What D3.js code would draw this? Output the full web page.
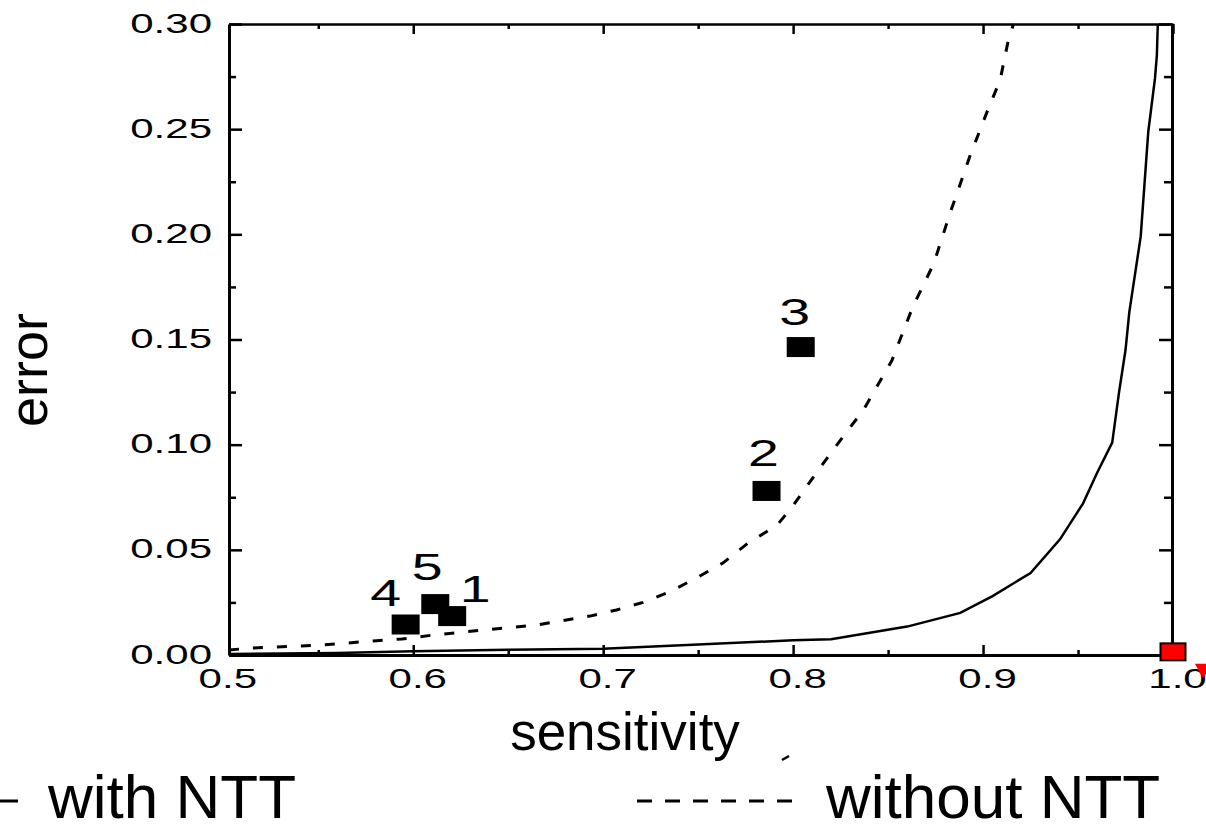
<!DOCTYPE html>
<html>
<head>
<meta charset="utf-8">
<script src="https://cdn.jsdelivr.net/npm/d3@7"></script>
<style>
  html, body { margin: 0; padding: 0; background: #fff; }
  svg { display: block; }
  text { font-family: "Liberation Sans", Arial, Helvetica, sans-serif; fill: #000; }
</style>
</head>
<body>
<svg id="chart" width="1206" height="824"></svg>
<script>
// ---------------- data ----------------
const xMajorTicks = [0.5, 0.6, 0.7, 0.8, 0.9, 1.0];
const xTickLabels = ["0.5", "0.6", "0.7", "0.8", "0.9", "1.0"];
const xMinorTicks = [0.55, 0.65, 0.75, 0.85, 0.95];
const yMajorTicks = [0.00, 0.05, 0.10, 0.15, 0.20, 0.25, 0.30];
const yTickLabels = ["0.00", "0.05", "0.10", "0.15", "0.20", "0.25", "0.30"];
const yMinorTicks = [0.025, 0.075, 0.125, 0.175, 0.225, 0.275];

// "with NTT" curve (solid)
const withNTT_x = [0.503, 0.56, 0.60, 0.65, 0.70, 0.75, 0.80, 0.82, 0.86, 0.888, 0.905, 0.925, 0.9405, 0.9526, 0.960, 0.968, 0.9716, 0.975, 0.977, 0.979, 0.983, 0.985, 0.987, 0.9905, 0.9915, 0.992];
const withNTT_y = [0.0005, 0.001, 0.0018, 0.0025, 0.003, 0.005, 0.007, 0.0075, 0.0135, 0.020, 0.028, 0.039, 0.055, 0.072, 0.0865, 0.101, 0.125, 0.145, 0.163, 0.175, 0.199, 0.224, 0.249, 0.274, 0.285, 0.300];

// "without NTT" curve (dashed)
const withoutNTT_x = [0.503, 0.515, 0.553, 0.579, 0.594, 0.6105, 0.637, 0.665, 0.693, 0.707, 0.721, 0.735, 0.749, 0.763, 0.776, 0.7916, 0.7995, 0.807, 0.821, 0.837, 0.852, 0.863, 0.874, 0.8826, 0.893, 0.902, 0.909, 0.913, 0.916];
const withoutNTT_y = [0.0024, 0.0033, 0.0048, 0.0067, 0.0076, 0.0095, 0.0119, 0.0143, 0.0185, 0.0214, 0.025, 0.030, 0.0366, 0.0437, 0.053, 0.0618, 0.0704, 0.080, 0.0975, 0.1165, 0.140, 0.1655, 0.186, 0.210, 0.237, 0.258, 0.2734, 0.291, 0.300];

// labelled experiment points
const pointLabels = ["1", "2", "3", "4", "5"];
const pointX = [0.6205, 0.786, 0.804, 0.596, 0.6116];
const pointY = [0.0185, 0.078, 0.1464, 0.0145, 0.0242];

// red reference markers
const idealX = [1.0];
const idealY = [0.0015];
const triX = [1.0159];
const triY = [-0.0065];

const legendLabels = ["with NTT", "without NTT"];
const xTitle = "sensitivity";
const yTitle = "error";

// label offsets (pixels, relative to the marker centre)
const labelDx = [23, -3, -6, -20, -8];
const labelDy = [-14, -25, -22, -19, -24];

// ---------------- layout ----------------
const svg = d3.select("#chart");
const mLeft = 229, mRight = 1173, mTop = 24, mBottom = 655;
const x = d3.scaleLinear().domain([0.503, 1.0]).range([mLeft, mRight]);
const y = d3.scaleLinear().domain([0, 0.30]).range([mBottom, mTop]);
const SX = 1.5; // horizontal stretch of the original chart text

function styleAxis(g, w) {
  g.select(".domain").attr("stroke", "#000").attr("stroke-width", w);
  g.selectAll(".tick line").attr("stroke", "#000").attr("stroke-width", 2.5);
}

// minor ticks
svg.append("g").attr("transform", `translate(0,${mBottom})`)
  .call(d3.axisBottom(x).tickValues(xMinorTicks).tickSizeInner(-5).tickSizeOuter(0).tickFormat(""))
  .call(g => { styleAxis(g, 3); g.select(".domain").remove(); });
svg.append("g").attr("transform", `translate(0,${mTop})`)
  .call(d3.axisTop(x).tickValues(xMinorTicks).tickSizeInner(-5).tickSizeOuter(0).tickFormat(""))
  .call(g => { styleAxis(g, 3); g.select(".domain").remove(); });
svg.append("g").attr("transform", `translate(${mLeft},0)`)
  .call(d3.axisLeft(y).tickValues(yMinorTicks).tickSizeInner(-7).tickSizeOuter(0).tickFormat(""))
  .call(g => { styleAxis(g, 3); g.select(".domain").remove(); });
svg.append("g").attr("transform", `translate(${mRight - 1},0)`)
  .call(d3.axisRight(y).tickValues(yMinorTicks).tickSizeInner(-8).tickSizeOuter(0).tickFormat(""))
  .call(g => { styleAxis(g, 3); g.select(".domain").remove(); });

// top & right frame
svg.append("g").attr("transform", `translate(0,${mTop})`)
  .call(d3.axisTop(x).tickValues(xMajorTicks.filter(d => d > 0.55)).tickSizeInner(-10).tickSizeOuter(0).tickFormat(""))
  .call(g => styleAxis(g, 2.5));
svg.append("g").attr("transform", `translate(${mRight - 1},0)`)
  .call(d3.axisRight(y).tickValues(yMajorTicks).tickSizeInner(-13).tickSizeOuter(0).tickFormat(""))
  .call(g => styleAxis(g, 3));

// bottom axis
const gx = svg.append("g").attr("transform", `translate(0,${mBottom})`)
  .call(d3.axisBottom(x).tickValues(xMajorTicks).tickSizeInner(-10).tickSizeOuter(0)
    .tickFormat((d, i) => xTickLabels[i]))
  .call(g => styleAxis(g, 3));
gx.selectAll(".tick").filter(d => d < 0.503).select("line").remove();
gx.selectAll(".tick text")
  .attr("font-size", 28).attr("font-family", "Liberation Sans, Arial, sans-serif")
  .attr("fill", "#000").attr("y", 33).attr("dy", 0).attr("x", 4 / SX)
  .attr("text-anchor", "middle")
  .attr("transform", `scale(${SX},1)`);

// left axis
const gy = svg.append("g").attr("transform", `translate(${mLeft},0)`)
  .call(d3.axisLeft(y).tickValues(yMajorTicks).tickSizeInner(-13).tickSizeOuter(0)
    .tickFormat((d, i) => yTickLabels[i]))
  .call(g => styleAxis(g, 3));
gy.selectAll(".tick text")
  .attr("font-size", 28).attr("font-family", "Liberation Sans, Arial, sans-serif")
  .attr("fill", "#000").attr("x", -17 / SX).attr("y", 8).attr("dy", 0)
  .attr("text-anchor", "end")
  .attr("transform", `scale(${SX},1)`);

// ---------------- curves ----------------
const line = d3.line().x(d => x(d[0])).y(d => y(d[1])).curve(d3.curveLinear);
const withData = withNTT_x.map((v, i) => [v, withNTT_y[i]]);
const withoutData = withoutNTT_x.map((v, i) => [v, withoutNTT_y[i]]);

svg.append("path").datum(withoutData).attr("d", line)
  .attr("fill", "none").attr("stroke", "#000").attr("stroke-width", 3)
  .attr("stroke-dasharray", "10,14");
svg.append("path").datum(withData).attr("d", line)
  .attr("fill", "none").attr("stroke", "#000").attr("stroke-width", 2.5);

// ---------------- points ----------------
const pts = pointX.map((v, i) => ({ x: v, y: pointY[i], label: pointLabels[i], dx: labelDx[i], dy: labelDy[i] }));
svg.selectAll("rect.pt").data(pts).join("rect").attr("class", "pt")
  .attr("x", d => x(d.x) - 14).attr("y", d => y(d.y) - 10)
  .attr("width", 28).attr("height", 20).attr("fill", "#000");
svg.selectAll("text.ptl").data(pts).join("text").attr("class", "ptl")
  .attr("transform", d => `translate(${x(d.x) + d.dx},${y(d.y) + d.dy}) scale(${SX},1)`)
  .attr("text-anchor", "middle").attr("font-size", 37).text(d => d.label);

// red markers
svg.selectAll("rect.ideal").data(idealX.map((v, i) => ({ x: v, y: idealY[i] }))).join("rect")
  .attr("class", "ideal")
  .attr("x", d => x(d.x) - 12.5).attr("y", d => y(d.y) - 8.5)
  .attr("width", 25).attr("height", 17)
  .attr("fill", "#ff0000").attr("stroke", "#000").attr("stroke-width", 2);
svg.selectAll("path.tri").data(triX.map((v, i) => ({ x: v, y: triY[i] }))).join("path")
  .attr("class", "tri")
  .attr("d", d3.symbol(d3.symbolTriangle).size(120))
  .attr("transform", d => `translate(${x(d.x)},${y(d.y)}) rotate(180)`)
  .attr("fill", "#ff0000");

// ---------------- titles ----------------
svg.append("text").attr("x", 625).attr("y", 750).attr("text-anchor", "middle")
  .attr("font-size", 53).text(xTitle);
svg.append("text").attr("transform", "translate(47,370) rotate(-90)").attr("text-anchor", "middle")
  .attr("font-size", 54).text(yTitle);
// small stray mark under the axis title
svg.append("path").attr("d", "M782,760 L789,756").attr("stroke", "#000").attr("stroke-width", 2.5);

// ---------------- legend ----------------
svg.append("line").attr("x1", 0).attr("x2", 18).attr("y1", 801).attr("y2", 801)
  .attr("stroke", "#000").attr("stroke-width", 3);
svg.append("text").attr("x", 48).attr("y", 818).attr("font-size", 62).text(legendLabels[0]);
svg.append("line").attr("x1", 637).attr("x2", 795).attr("y1", 801).attr("y2", 801)
  .attr("stroke", "#000").attr("stroke-width", 3).attr("stroke-dasharray", "15,13");
svg.append("text").attr("x", 826).attr("y", 818).attr("font-size", 62).text(legendLabels[1]);
</script>
</body>
</html>
